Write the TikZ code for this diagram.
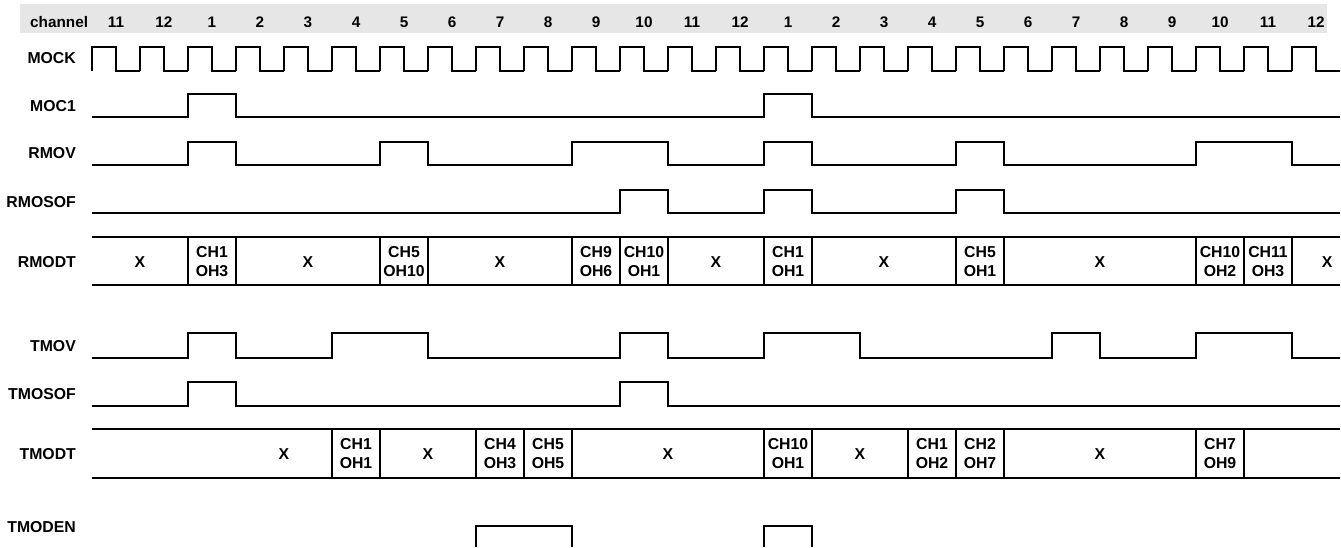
\documentclass[tikz,border=0pt]{standalone}
\usepackage{fontspec}
\setmainfont{Liberation Sans}
\usetikzlibrary{positioning}
\definecolor{bandgray}{HTML}{E6E6E6}

\begin{document}
\begin{tikzpicture}[x=48pt, y=-1pt, font=\fontsize{15.8}{19}\selectfont\bfseries]
    \tikzstyle{sig} = [line width=2.6pt, line join=miter]
    \tikzstyle{lbl} = [anchor=east, inner sep=0pt]
    \tikzstyle{hdr} = [inner sep=0pt, font=\fontsize{15.3}{18}\selectfont\bfseries]
    \tikzstyle{cell} = [align=center, inner sep=0pt]

    \useasboundingbox (-1.9167,0) rectangle (26.0208,547);

    % Header band
    \fill[bandgray] (-1.5,4) rectangle (25.729,33);
    \node [hdr, anchor=west] (chan) at (-1.2917,22) {channel};
    \foreach \c [count=\i from 0] in {11,12,1,2,3,4,5,6,7,8,9,10,11,12,1,2,3,4,5,6,7,8,9,10,11,12}
        \node [hdr] (ch\i) at (\i+0.5,22) {\c};

    % Signal names
    \node [lbl] (mock)   at (-0.333,58)  {MOCK};
    \node [lbl] (moc1)   at (-0.333,106) {MOC1};
    \node [lbl] (rmov)   at (-0.333,153) {RMOV};
    \node [lbl] (rmosof) at (-0.333,202) {RMOSOF};
    \node [lbl] (rmodt)  at (-0.333,262) {RMODT};
    \node [lbl] (tmov)   at (-0.333,346) {TMOV};
    \node [lbl] (tmosof) at (-0.333,394) {TMOSOF};
    \node [lbl] (tmodt)  at (-0.333,454) {TMODT};
    \node [lbl] (tmoden) at (-0.333,527) {TMODEN};

    % Clock
    \foreach \k in {0,...,25}
        \draw [sig] (\k,71) -- (\k,47) -- (\k+0.5,47) -- (\k+0.5,71) -- (\k+1,71);

    % Receive side
    \draw [sig] (0,117) -| (2,94) -| (3,117) -| (14,94) -| (15,117) -- (26,117);
    \draw [sig] (0,165) -| (2,142) -| (3,165) -| (6,142) -| (7,165) -| (10,142) -| (12,165)
        -| (14,142) -| (15,165) -| (18,142) -| (19,165) -| (23,142) -| (25,165) -- (26,165);
    \draw [sig] (0,213) -| (11,190) -| (12,213) -| (14,190) -| (15,213) -| (18,190) -| (19,213) -- (26,213);

    \draw [sig] (0,237) -- (26,237);
    \draw [sig] (0,285) -- (26,285);
    \foreach \d in {2,3,6,7,10,11,12,14,15,18,19,23,24,25}
        \draw [sig] (\d,237) -- (\d,285);
    \foreach \x/\t [count=\n] in {1/X, 2.5/{CH1\\OH3}, 4.5/X, 6.5/{CH5\\OH10}, 8.5/X,
        10.5/{CH9\\OH6}, 11.5/{CH10\\OH1}, 13/X, 14.5/{CH1\\OH1}, 16.5/X, 18.5/{CH5\\OH1},
        21/X, 23.5/{CH10\\OH2}, 24.5/{CH11\\OH3}, 25.73/X}
        \node [cell] (rdt\n) at (\x,262) {\t};

    % Transmit side
    \draw [sig] (0,358) -| (2,333) -| (3,358) -| (5,333) -| (7,358) -| (11,333) -| (12,358)
        -| (14,333) -| (16,358) -| (20,333) -| (21,358) -| (23,333) -| (25,358) -- (26,358);
    \draw [sig] (0,406) -| (2,382) -| (3,406) -| (11,382) -| (12,406) -- (26,406);

    \draw [sig] (0,429) -- (26,429);
    \draw [sig] (0,478) -- (26,478);
    \foreach \d in {5,6,8,9,10,14,15,17,18,19,23,24}
        \draw [sig] (\d,429) -- (\d,478);
    \foreach \x/\t [count=\n] in {4/X, 5.5/{CH1\\OH1}, 7/X, 8.5/{CH4\\OH3}, 9.5/{CH5\\OH5},
        12/X, 14.5/{CH10\\OH1}, 16/X, 17.5/{CH1\\OH2}, 18.5/{CH2\\OH7}, 21/X, 23.5/{CH7\\OH9}}
        \node [cell] (tdt\n) at (\x,454) {\t};

    \draw [sig] (8,547) |- (10,526) -- (10,547);
    \draw [sig] (14,547) |- (15,526) -- (15,547);
\end{tikzpicture}
\end{document}
